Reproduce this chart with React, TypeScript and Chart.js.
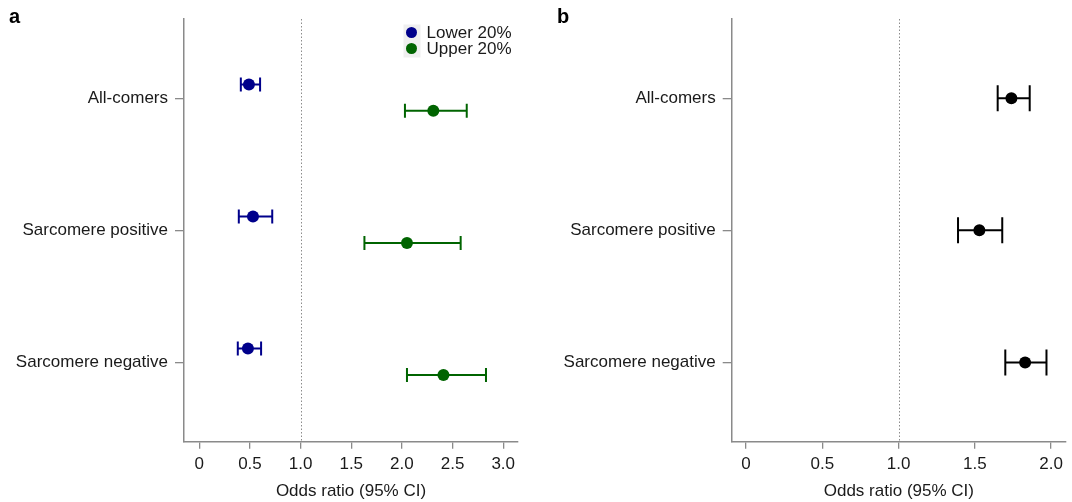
import { useEffect, useRef } from "react";
import { Chart, registerables } from "chart.js";

Chart.register(...registerables);

// ---------- data ----------
const categories = ["All-comers", "Sarcomere positive", "Sarcomere negative"];
const seriesNames = ["Lower 20%", "Upper 20%"];

// panel a: lower 20%
const lowerOR = [0.49, 0.53, 0.48];
const lowerLo = [0.41, 0.39, 0.38];
const lowerHi = [0.6, 0.72, 0.61];
// panel a: upper 20%
const upperOR = [2.31, 2.05, 2.41];
const upperLo = [2.03, 1.63, 2.05];
const upperHi = [2.64, 2.58, 2.83];
// panel b
const overallOR = [1.74, 1.53, 1.83];
const overallLo = [1.65, 1.39, 1.7];
const overallHi = [1.86, 1.68, 1.97];

const xTicksA = [0, 0.5, 1, 1.5, 2, 2.5, 3];
const xTickLabelsA = ["0", "0.5", "1.0", "1.5", "2.0", "2.5", "3.0"];
const xTicksB = [0, 0.5, 1, 1.5, 2];
const xTickLabelsB = ["0", "0.5", "1.0", "1.5", "2.0"];
const xTitle = "Odds ratio (95% CI)";
const refValue = 1;

// ---------- styles ----------
const FONT = "'Liberation Sans', Arial, Helvetica, sans-serif";
const TEXT = "#1a1a1a";
const AXIS = "#8a8a8a";
const BLUE = "#00008b";
const GREEN = "#006400";
const BLACK = "#000000";

Chart.defaults.font.family = FONT;
Chart.defaults.font.size = 17;
Chart.defaults.color = TEXT;

const errorBarPlugin = {
  id: "errorBars",
  beforeDatasetsDraw(chart: any, _args: any, opts: any) {
    const { ctx } = chart;
    const xs = chart.scales.x;
    const cap = opts.cap ?? 7;
    chart.data.datasets.forEach((ds: any, di: number) => {
      const meta = chart.getDatasetMeta(di);
      meta.data.forEach((pt: any, i: number) => {
        const raw = ds.data[i];
        const x1 = xs.getPixelForValue(raw.lo);
        const x2 = xs.getPixelForValue(raw.hi);
        const y = pt.y;
        ctx.save();
        ctx.strokeStyle = ds.borderColor;
        ctx.lineWidth = opts.lineWidth ?? 2;
        ctx.beginPath();
        ctx.moveTo(x1, y);
        ctx.lineTo(x2, y);
        ctx.moveTo(x1, y - cap);
        ctx.lineTo(x1, y + cap);
        ctx.moveTo(x2, y - cap);
        ctx.lineTo(x2, y + cap);
        ctx.stroke();
        ctx.restore();
      });
    });
  },
};

const refLinePlugin = {
  id: "refLine",
  beforeDatasetsDraw(chart: any) {
    const { ctx, chartArea } = chart;
    const x = Math.round(chart.scales.x.getPixelForValue(refValue)) + 0.5;
    ctx.save();
    ctx.strokeStyle = "#8c8c8c";
    ctx.lineWidth = 1;
    ctx.setLineDash([1.5, 2]);
    ctx.beginPath();
    ctx.moveTo(x, chartArea.top);
    ctx.lineTo(x, chartArea.bottom);
    ctx.stroke();
    ctx.restore();
  },
};

const panelLabelPlugin = {
  id: "panelLabel",
  afterDraw(chart: any, _args: any, opts: any) {
    const { ctx } = chart;
    ctx.save();
    ctx.font = `bold 20px ${FONT}`;
    ctx.fillStyle = BLACK;
    ctx.textBaseline = "alphabetic";
    ctx.fillText(opts.text, opts.x, opts.y);
    ctx.restore();
  },
};

const boxLegendPlugin = {
  id: "boxLegend",
  afterDatasetsDraw(chart: any, _args: any, opts: any) {
    if (!opts.show) return;
    const { ctx } = chart;
    const { x, y, rowH } = opts;
    const n = chart.data.datasets.length;
    ctx.save();
    ctx.fillStyle = "#efefef";
    ctx.fillRect(x - 8, y - 8, 17, rowH * (n - 1) + 17);
    chart.data.datasets.forEach((ds: any, i: number) => {
      const cy = y + i * rowH;
      ctx.fillStyle = ds.backgroundColor;
      ctx.beginPath();
      ctx.arc(x, cy, 5.5, 0, Math.PI * 2);
      ctx.fill();
      ctx.fillStyle = TEXT;
      ctx.font = `17px ${FONT}`;
      ctx.textBaseline = "middle";
      ctx.fillText(ds.label, x + 15, cy + 1);
    });
    ctx.restore();
  },
};

function makeOptions(p: {
  xmin: number;
  xmax: number;
  ticks: number[];
  tickLabels: string[];
  yWidth: number;
  padRight: number;
  cap: number;
  label: string;
  labelX: number;
  legend: boolean;
}) {
  return {
    responsive: false,
    animation: false as const,
    events: [],
    layout: { padding: { top: 19, right: p.padRight, left: 0, bottom: 0 } },
    plugins: {
      legend: { display: false },
      tooltip: { enabled: false },
      errorBars: { cap: p.cap, lineWidth: 2 },
      panelLabel: { text: p.label, x: p.labelX, y: 23 },
      boxLegend: { show: p.legend, x: 411.5, y: 32.5, rowH: 16 },
    },
    scales: {
      x: {
        type: "linear" as const,
        min: p.xmin,
        max: p.xmax,
        afterBuildTicks: (s: any) => {
          s.ticks = p.ticks.map((v) => ({ value: v }));
        },
        afterFit: (s: any) => {
          s.height = 60.3;
          s.paddingLeft = 0;
          s.paddingRight = 0;
        },
        ticks: {
          autoSkip: false,
          maxRotation: 0,
          padding: 5,
          color: TEXT,
          font: { size: 17 },
          callback: (v: any) => {
            const idx = p.ticks.indexOf(Number(v));
            return idx >= 0 ? p.tickLabels[idx] : "";
          },
        },
        grid: { drawOnChartArea: false, drawTicks: true, tickLength: 7, color: AXIS, lineWidth: 1.3 },
        border: { display: true, color: AXIS, width: 1.5 },
        title: {
          display: true,
          text: xTitle,
          color: TEXT,
          font: { size: 17 },
          padding: { top: 0, bottom: 0 },
        },
      },
      y: {
        type: "linear" as const,
        min: 0.4,
        max: 3.6,
        reverse: true,
        afterBuildTicks: (s: any) => {
          s.ticks = categories.map((_, i) => ({ value: i + 1 }));
        },
        afterFit: (s: any) => {
          s.width = p.yWidth;
          s.paddingTop = 0;
          s.paddingBottom = 0;
        },
        ticks: {
          autoSkip: false,
          padding: 7,
          color: TEXT,
          font: { size: 17 },
          callback: (v: any) => categories[Math.round(Number(v)) - 1] ?? "",
        },
        grid: { drawOnChartArea: false, drawTicks: true, tickLength: 9, color: AXIS, lineWidth: 1.3 },
        border: { display: true, color: AXIS, width: 1.5 },
      },
    },
  };
}

function points(or: number[], lo: number[], hi: number[], offset: number) {
  return categories.map((_, i) => ({ x: or[i], y: i + 1 + offset, lo: lo[i], hi: hi[i] }));
}

export default function App() {
  const refA = useRef<HTMLCanvasElement>(null);
  const refB = useRef<HTMLCanvasElement>(null);

  useEffect(() => {
    const plugins = [refLinePlugin, errorBarPlugin, panelLabelPlugin, boxLegendPlugin];
    const chartA = new Chart(refA.current!, {
      type: "scatter",
      data: {
        datasets: [
          {
            label: seriesNames[0],
            data: points(lowerOR, lowerLo, lowerHi, -0.105),
            backgroundColor: BLUE,
            borderColor: BLUE,
            pointRadius: 6,
            pointBorderWidth: 0,
          },
          {
            label: seriesNames[1],
            data: points(upperOR, upperLo, upperHi, 0.095),
            backgroundColor: GREEN,
            borderColor: GREEN,
            pointRadius: 6,
            pointBorderWidth: 0,
          },
        ],
      },
      options: makeOptions({
        xmin: -0.151,
        xmax: 3.146,
        ticks: xTicksA,
        tickLabels: xTickLabelsA,
        yWidth: 184,
        padRight: 22,
        cap: 7,
        label: "a",
        labelX: 9,
        legend: true,
      }) as any,
      plugins: plugins as any,
    });
    const chartB = new Chart(refB.current!, {
      type: "scatter",
      data: {
        datasets: [
          {
            label: "All",
            data: points(overallOR, overallLo, overallHi, 0),
            backgroundColor: BLACK,
            borderColor: BLACK,
            pointRadius: 6,
            pointBorderWidth: 0,
          },
        ],
      },
      options: makeOptions({
        xmin: -0.094,
        xmax: 2.098,
        ticks: xTicksB,
        tickLabels: xTickLabelsB,
        yWidth: 191.7,
        padRight: 6,
        cap: 13,
        label: "b",
        labelX: 17,
        legend: false,
      }) as any,
      plugins: plugins as any,
    });
    return () => {
      chartA.destroy();
      chartB.destroy();
    };
  }, []);

  return (
    <div style={{ position: "fixed", left: 0, top: 0, width: 1072, height: 502, background: "#fff" }}>
      <canvas ref={refA} width={540} height={502} style={{ position: "absolute", left: 0, top: 0 }} />
      <canvas ref={refB} width={532} height={502} style={{ position: "absolute", left: 540, top: 0 }} />
    </div>
  );
}
